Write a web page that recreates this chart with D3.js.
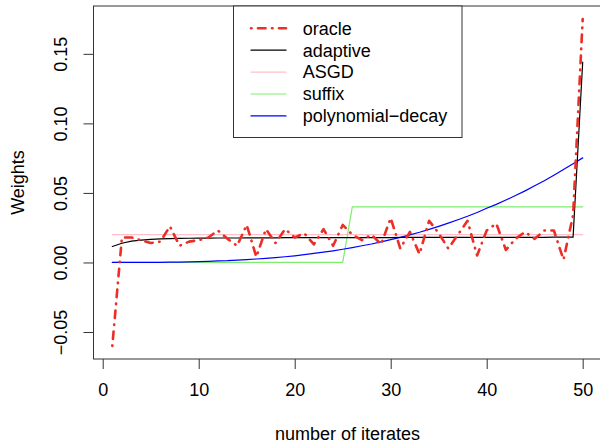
<!DOCTYPE html>
<html>
<head>
<meta charset="utf-8">
<script src="https://cdn.jsdelivr.net/npm/d3@7"></script>
<style>
  body { margin: 0; background: #fff; }
  svg text { font-family: "Liberation Sans", Arial, Helvetica, sans-serif; fill: #000; }
</style>
</head>
<body>
<svg id="chart" width="600" height="444"></svg>
<script>
// iterates 1..50
var iterates = d3.range(1, 51);

var oracle = [-0.060, 0.018, 0.018, 0.016, 0.014, 0.015, 0.026, 0.012, 0.015, 0.016,
              0.018, 0.023, 0.017, 0.012, 0.027, 0.004, 0.024, 0.014, 0.024, 0.018,
              0.021, 0.013, 0.024, 0.012, 0.027, 0.020, 0.016, 0.020, 0.013, 0.032,
              0.010, 0.022, 0.006, 0.030, 0.021, 0.010, 0.020, 0.030, 0.005, 0.023,
              0.028, 0.009, 0.017, 0.022, 0.017, 0.023, 0.023, 0.002, 0.034, 0.175];

var adaptive = [0.0115, 0.0138, 0.0153, 0.0161, 0.0166, 0.0169, 0.0171, 0.0173, 0.0174, 0.0175,
                0.0175, 0.0176, 0.0176, 0.0176, 0.0177, 0.0177, 0.0177, 0.0177, 0.0178, 0.0178,
                0.0178, 0.0178, 0.0178, 0.0178, 0.0179, 0.0179, 0.0179, 0.0179, 0.0179, 0.0179,
                0.0180, 0.0180, 0.0180, 0.0180, 0.0180, 0.0180, 0.0180, 0.0181, 0.0181, 0.0181,
                0.0181, 0.0181, 0.0181, 0.0181, 0.0181, 0.0181, 0.0182, 0.0182, 0.0182, 0.1440];

var asgd = [0.02, 0.02, 0.02, 0.02, 0.02, 0.02, 0.02, 0.02, 0.02, 0.02,
            0.02, 0.02, 0.02, 0.02, 0.02, 0.02, 0.02, 0.02, 0.02, 0.02,
            0.02, 0.02, 0.02, 0.02, 0.02, 0.02, 0.02, 0.02, 0.02, 0.02,
            0.02, 0.02, 0.02, 0.02, 0.02, 0.02, 0.02, 0.02, 0.02, 0.02,
            0.02, 0.02, 0.02, 0.02, 0.02, 0.02, 0.02, 0.02, 0.02, 0.02];

var suffix = [0, 0, 0, 0, 0, 0, 0, 0, 0, 0,
              0, 0, 0, 0, 0, 0, 0, 0, 0, 0,
              0, 0, 0, 0, 0, 0.04, 0.04, 0.04, 0.04, 0.04,
              0.04, 0.04, 0.04, 0.04, 0.04, 0.04, 0.04, 0.04, 0.04, 0.04,
              0.04, 0.04, 0.04, 0.04, 0.04, 0.04, 0.04, 0.04, 0.04, 0.04];

var polyDecay = [0.0000, 0.0000, 0.0000, 0.0000, 0.0001, 0.0001, 0.0002, 0.0003, 0.0004, 0.0006,
                 0.0008, 0.0011, 0.0013, 0.0017, 0.0021, 0.0025, 0.0030, 0.0035, 0.0041, 0.0048,
                 0.0056, 0.0065, 0.0074, 0.0084, 0.0095, 0.0107, 0.0120, 0.0133, 0.0148, 0.0164,
                 0.0180, 0.0198, 0.0217, 0.0238, 0.0260, 0.0283, 0.0307, 0.0332, 0.0359, 0.0390,
                 0.0418, 0.0449, 0.0481, 0.0515, 0.0551, 0.0588, 0.0627, 0.0668, 0.0710, 0.0752];

var xTicks = [0, 10, 20, 30, 40, 50];
var yTicks = [-0.05, 0, 0.05, 0.10, 0.15];

var seriesNames = ["oracle", "adaptive", "ASGD", "suffix", "polynomial\u2212decay"];

var series = [
  { name: seriesNames[0], values: oracle, color: "#ec2e26", width: 2.6, dash: "0.5,6.5,7.5,6.5" },
  { name: seriesNames[1], values: adaptive, color: "#000000", width: 1.2, dash: null },
  { name: seriesNames[2], values: asgd, color: "#ffc0cb", width: 1.2, dash: null },
  { name: seriesNames[3], values: suffix, color: "#7cee6c", width: 1.2, dash: null },
  { name: seriesNames[4], values: polyDecay, color: "#0000ff", width: 1.2, dash: null }
];

var svg = d3.select("#chart");
var plotL = 93.5, plotR = 601.5, plotT = 6, plotB = 359;
var fontPx = "18px";

// R style 4% padding on the data range
function pad(ext) {
  var d = (ext[1] - ext[0]) * 0.04;
  return [ext[0] - d, ext[1] + d];
}
var allY = [].concat(oracle, adaptive, asgd, suffix, polyDecay);
var xScale = d3.scaleLinear().domain(pad(d3.extent(iterates))).range([plotL, plotR]);
var yScale = d3.scaleLinear().domain(pad(d3.extent(allY))).range([plotB, plotT]);

var fmtY = function(d) { return d3.format(".2f")(d).replace("-", "\u2212"); };

var line = d3.line()
  .x(function(d, i) { return xScale(iterates[i]); })
  .y(function(d) { return yScale(d); });

// oracle drawn last so it sits on top
var order = [2, 3, 4, 1, 0];
order.forEach(function(k) {
  var s = series[k];
  svg.append("path")
    .attr("d", line(s.values))
    .attr("fill", "none")
    .attr("stroke", s.color)
    .attr("stroke-width", s.width)
    .attr("stroke-linecap", "round")
    .attr("stroke-linejoin", "round")
    .attr("stroke-dasharray", s.dash);
});

// axes
var xAxis = svg.append("g")
  .attr("transform", "translate(0," + plotB + ")")
  .call(d3.axisBottom(xScale).tickValues(xTicks).tickSize(10).tickPadding(14));
xAxis.select(".domain").remove();
xAxis.selectAll("text").style("font-size", fontPx).attr("dy", "0.71em");

var yAxis = svg.append("g")
  .attr("transform", "translate(" + plotL + ",0)")
  .call(d3.axisLeft(yScale).tickValues(yTicks).tickFormat(fmtY).tickSize(10));
yAxis.select(".domain").remove();
yAxis.selectAll(".tick text")
  .style("font-size", fontPx)
  .attr("text-anchor", "middle")
  .attr("x", null).attr("dy", "0.35em")
  .attr("transform", "translate(-33,0) rotate(-90)");

svg.selectAll(".tick line").attr("stroke", "#333");

// plot box
svg.append("rect")
  .attr("x", plotL).attr("y", plotT)
  .attr("width", plotR - plotL).attr("height", plotB - plotT)
  .attr("fill", "none").attr("stroke", "#333").attr("stroke-width", 1);

// axis titles
svg.append("text")
  .attr("x", (plotL + plotR) / 2).attr("y", 434)
  .attr("text-anchor", "middle").attr("dy", "0.35em")
  .style("font-size", fontPx)
  .text("number of iterates");

svg.append("text")
  .attr("transform", "translate(18," + (plotT + plotB) / 2 + ") rotate(-90)")
  .attr("text-anchor", "middle").attr("dy", "0.35em")
  .style("font-size", fontPx)
  .text("Weights");

// legend
var lg = svg.append("g");
lg.append("rect")
  .attr("x", 233.5).attr("y", plotT)
  .attr("width", 228.5).attr("height", 131.5)
  .attr("fill", "#fff").attr("stroke", "#333");

series.forEach(function(s, i) {
  var yy = 28.3 + i * 21.9;
  lg.append("line")
    .attr("x1", 251).attr("x2", 286).attr("y1", yy).attr("y2", yy)
    .attr("stroke", s.color)
    .attr("stroke-width", s.width)
    .attr("stroke-linecap", "round")
    .attr("stroke-dasharray", s.dash);
  lg.append("text")
    .attr("x", 302.7).attr("y", yy).attr("dy", "0.35em")
    .style("font-size", fontPx)
    .text(s.name);
});
</script>
</body>
</html>
